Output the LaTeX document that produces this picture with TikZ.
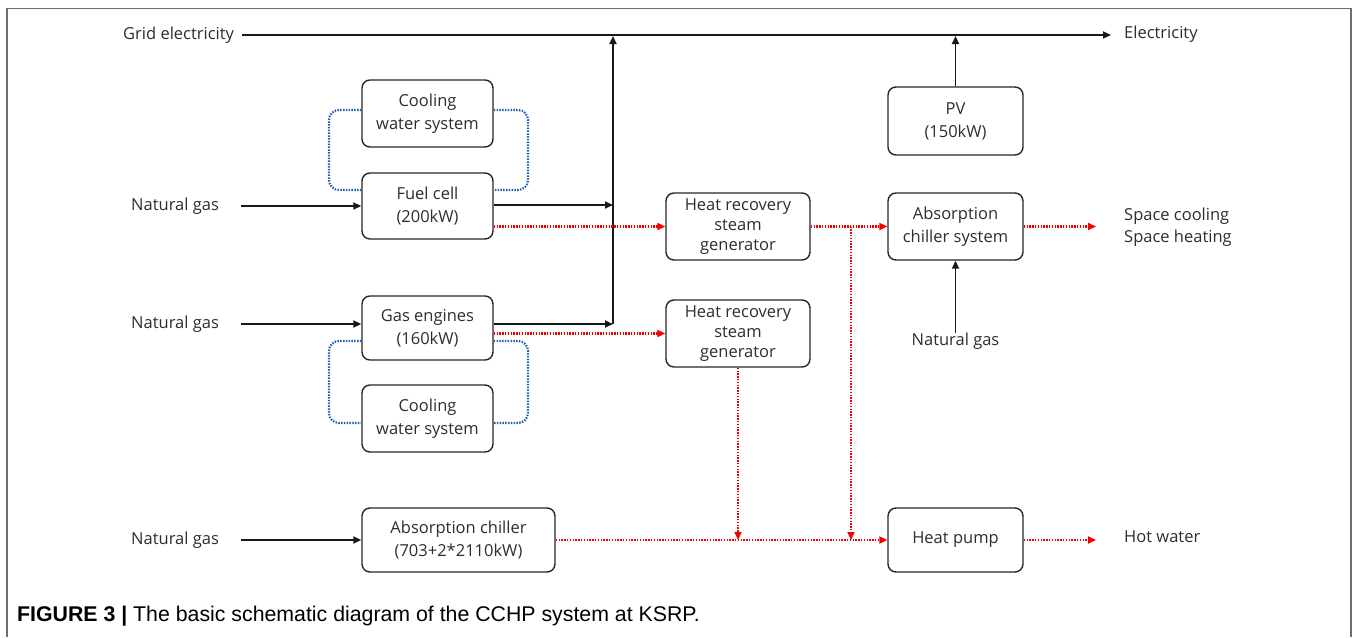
\documentclass[tikz,border=0pt]{standalone}
\usepackage{fontspec}
\setmainfont{Open Sans}
\newfontfamily\capfont{Liberation Sans}
\usetikzlibrary{arrows.meta}
\definecolor{heatred}{RGB}{245,0,0}
\definecolor{coolblue}{RGB}{35,95,175}
\definecolor{txt}{RGB}{45,45,45}
\definecolor{framegray}{RGB}{110,110,110}
\begin{document}
\begin{tikzpicture}[x=1pt,y=-1pt,
  box/.style={draw=black!85, line width=1.4pt, rounded corners=8pt, align=center,
    font=\fontsize{16.5}{23}\selectfont, text=txt, inner sep=0pt},
  lbl/.style={font=\fontsize{16.5}{22}\selectfont, text=txt, inner sep=0pt, align=left},
  tip/.style={-{Triangle[length=8pt,width=7pt]}},
  elec/.style={draw=black!90, line width=1.9pt},
  heat/.style={draw=heatred, line width=2.2pt, dash pattern=on 1.5pt off 1.3pt},
  cool/.style={draw=coolblue, line width=2.2pt, dash pattern=on 1.5pt off 1.3pt, rounded corners=10pt}]
\useasboundingbox (0,0) rectangle (1354,637);
\draw[framegray, line width=1.5pt] (7,637) -- (7,8.5) -- (1351,8.5) -- (1351,637);

% boxes
\node[box, minimum width=131pt, minimum height=67pt] (cw1) at (427.5,113.5) {Cooling\\water system};
\node[box, minimum width=131pt, minimum height=66pt] (fc) at (427.5,206) {Fuel cell\\(200kW)};
\node[box, minimum width=131pt, minimum height=64pt] (ge) at (427.5,328) {Gas engines\\(160kW)};
\node[box, minimum width=131pt, minimum height=67pt] (cw2) at (427.5,418.5) {Cooling\\water system};
\node[box, minimum width=193pt, minimum height=64pt] (ac) at (458.5,540) {Absorption chiller\\(703+2*2110kW)};
\node[box, minimum width=144pt, minimum height=67pt, font=\fontsize{16.5}{20}\selectfont] (h1) at (738,226.5) {Heat recovery\\steam\\generator};
\node[box, minimum width=144pt, minimum height=67pt, font=\fontsize{16.5}{20}\selectfont] (h2) at (738,333.5) {Heat recovery\\steam\\generator};
\node[box, minimum width=135pt, minimum height=68pt] (pv) at (955.5,121) {PV\\(150kW)};
\node[box, minimum width=135pt, minimum height=67pt] (acs) at (955.5,226.5) {Absorption\\chiller system};
\node[box, minimum width=135pt, minimum height=64pt] (hp) at (955.5,540) {Heat pump};

% labels
\node[lbl, anchor=west] (grid) at (123,35) {Grid electricity};
\node[lbl, anchor=west] (elo) at (1124,34) {Electricity};
\node[lbl, anchor=west] (ng1) at (131,206) {Natural gas};
\node[lbl, anchor=west] (ng2) at (131,324) {Natural gas};
\node[lbl, anchor=west] (ng3) at (131,540) {Natural gas};
\node[lbl, anchor=north] (ng4) at (955.5,333) {Natural gas};
\node[lbl, anchor=west] (spc) at (1124,227) {Space cooling\\Space heating};
\node[lbl, anchor=west] (hw) at (1124,537) {Hot water};
\node[anchor=west, inner sep=0pt, font=\capfont\fontsize{21.3}{24}\selectfont, text=black] (cap) at (17,616)
  {\textbf{FIGURE 3 |} The basic schematic diagram of the CCHP system at KSRP.};

% coordinates
\coordinate (gridstart) at (242,35);
\coordinate (gridend) at (1111,35);
\coordinate (bus) at (613,324);
\coordinate (bustop) at (613,36);
\coordinate (pvtop) at (955.5,36);
\coordinate (br) at (851,226.5);
\coordinate (spcend) at (1096,226.5);
\coordinate (hwend) at (1096,540);

% electricity
\draw[elec, tip] (gridstart) -- (gridend);
\draw[elec, tip] (bus) -- (bustop);
\draw[elec, tip] (pv.north) -- (pvtop);
\draw[elec, tip] ([yshift=1pt]fc.east) -- ([yshift=1pt]fc.east -| bus);
\draw[elec, tip] ([yshift=4pt]ge.east) -- (bus);
\draw[elec, tip] (241,206) -- (fc.west);
\draw[elec, tip] (241,324) -- ([yshift=4pt]ge.west);
\draw[elec, tip] (241,540) -- (ac.west);
\draw[elec, tip] (ng4.north) -- (acs.south);

% heat
\draw[heat, tip] ([yshift=-20.5pt]fc.east) -- (h1.west);
\draw[heat, tip] (h1.east) -- (acs.west);
\draw[heat, tip] (br) -- (br |- hp.west);
\draw[heat, tip] ([yshift=-5.5pt]ge.east) -- (h2.west);
\draw[heat, tip] (h2.south) -- (h2.south |- hp.west);
\draw[heat, tip] (ac.east) -- (hp.west);
\draw[heat, tip] (acs.east) -- (spcend);
\draw[heat, tip] (hp.east) -- (hwend);

% cooling loops
\draw[cool] ([yshift=3.5pt]cw1.west) -- (329,110) -- (329,190) -- ([yshift=16pt]fc.west);
\draw[cool] ([yshift=3.5pt]cw1.east) -- (528,110) -- (528,190) -- ([yshift=16pt]fc.east);
\draw[cool] ([yshift=-13pt]ge.west) -- (329,341) -- (329,423) -- ([yshift=-4.5pt]cw2.west);
\draw[cool] ([yshift=-13pt]ge.east) -- (528,341) -- (528,423) -- ([yshift=-4.5pt]cw2.east);
\end{tikzpicture}
\end{document}
